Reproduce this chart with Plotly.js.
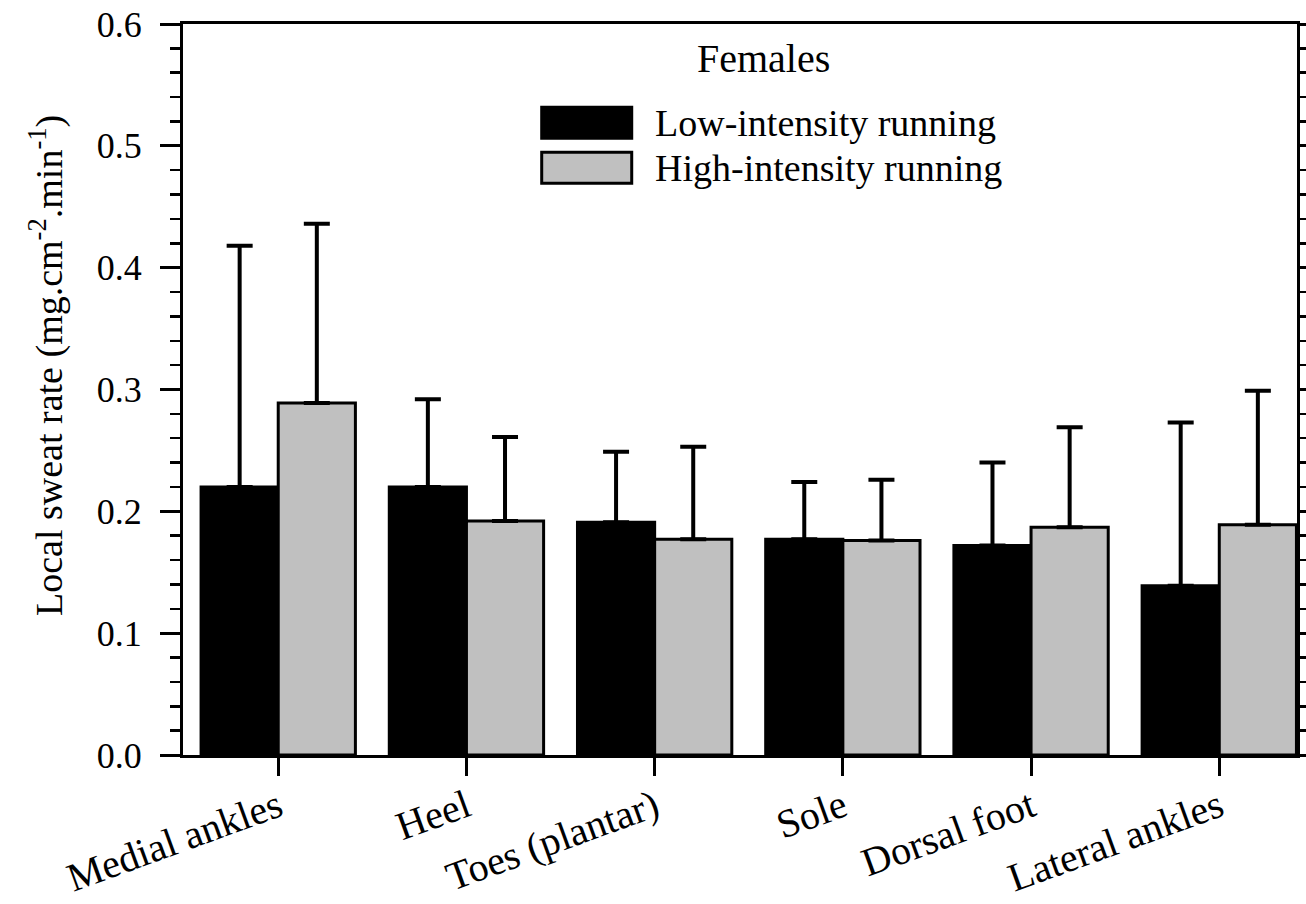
<!DOCTYPE html>
<html>
<head>
<meta charset="utf-8">
<script src="https://cdn.plot.ly/plotly-3.0.1.min.js"></script>
<style>html,body{margin:0;padding:0;background:#fff;}#chart{width:1306px;height:904px;}</style>
</head>
<body>
<div id="chart"></div>
<script>
const categories = ["Medial ankles", "Heel", "Toes (plantar)", "Sole", "Dorsal foot", "Lateral ankles"];
const lowMean = [0.220, 0.220, 0.191, 0.177, 0.172, 0.139];
const lowUpper = [0.418, 0.292, 0.249, 0.224, 0.240, 0.273];
const highMean = [0.289, 0.192, 0.177, 0.176, 0.187, 0.189];
const highUpper = [0.436, 0.261, 0.253, 0.226, 0.269, 0.299];
const yTickVals = [0, 0.1, 0.2, 0.3, 0.4, 0.5, 0.6];
const yTickText = ["0.0", "0.1", "0.2", "0.3", "0.4", "0.5", "0.6"];
const seriesNames = ["Low-intensity running", "High-intensity running"];
const chartTitle = "Females";
const yTitle = "Local sweat rate (mg.cm<sup>-2</sup>.min<sup>-1</sup>)";

const FONT = "Liberation Serif";
const errLow = lowUpper.map((u, i) => u - lowMean[i]);
const errHigh = highUpper.map((u, i) => u - highMean[i]);
const zeros = categories.map(() => 0);

const traces = [
  {
    type: "bar", name: seriesNames[0], x: categories, y: lowMean,
    marker: {color: "#000000", line: {color: "#000000", width: 3}},
    error_y: {type: "data", symmetric: false, array: errLow, arrayminus: zeros, color: "#000", thickness: 4, width: 13}
  },
  {
    type: "bar", name: seriesNames[1], x: categories, y: highMean,
    marker: {color: "#c0c0c0", line: {color: "#000000", width: 3}},
    error_y: {type: "data", symmetric: false, array: errHigh, arrayminus: zeros, color: "#000", thickness: 4, width: 13}
  }
];

const layout = {
  width: 1306, height: 904,
  margin: {l: 183, r: 9, t: 24, b: 149},
  paper_bgcolor: "#fff", plot_bgcolor: "#fff",
  showlegend: false,
  barmode: "group", bargap: 0.18, bargroupgap: 0,
  font: {family: FONT, color: "#000", size: 36},
  xaxis: {
    type: "category", range: [-0.506, 5.413],
    showline: true, linecolor: "#000", linewidth: 3, mirror: true,
    ticks: "outside", ticklen: 18, tickwidth: 3, tickcolor: "#000",
    tickangle: -20, tickfont: {family: FONT, size: 40, color: "#000"},
    ticklabelstandoff: -8,
    showgrid: false, zeroline: false
  },
  yaxis: {
    range: [0, 0.6], tickvals: yTickVals, ticktext: yTickText,
    showline: true, linecolor: "#000", linewidth: 3, mirror: "allticks",
    ticks: "outside", ticklen: 20, tickwidth: 3, tickcolor: "#000",
    minor: {dtick: 0.02, ticks: "outside", ticklen: 10, tickwidth: 2.5, tickcolor: "#000", showgrid: false},
    tickfont: {family: FONT, size: 36, color: "#000"},
    ticklabelstandoff: 11,
    showgrid: false, zeroline: false
  },
  shapes: [
    {type: "rect", xref: "paper", yref: "paper", x0: 0.322, x1: 0.4028, y0: 0.8436, y1: 0.886,
     fillcolor: "#000", line: {color: "#000", width: 3}},
    {type: "rect", xref: "paper", yref: "paper", x0: 0.322, x1: 0.4028, y0: 0.782, y1: 0.8245,
     fillcolor: "#c0c0c0", line: {color: "#000", width: 3}}
  ],
  annotations: [
    {xref: "paper", yref: "paper", x: 0.5215, y: 0.953, text: chartTitle, showarrow: false,
     xanchor: "center", yanchor: "middle", font: {family: FONT, size: 40, color: "#000"}},
    {xref: "paper", yref: "paper", x: 0.4216, y: 0.8646, text: seriesNames[0], showarrow: false,
     xanchor: "left", yanchor: "middle", font: {family: FONT, size: 38, color: "#000"}},
    {xref: "paper", yref: "paper", x: 0.4216, y: 0.803, text: seriesNames[1], showarrow: false,
     xanchor: "left", yanchor: "middle", font: {family: FONT, size: 38, color: "#000"}},
    {xref: "paper", yref: "paper", x: -0.1230, y: 0.5335, text: yTitle, showarrow: false, textangle: -90,
     xanchor: "center", yanchor: "middle", font: {family: FONT, size: 38, color: "#000"}}
  ]
};

Plotly.newPlot("chart", traces, layout, {displayModeBar: false, staticPlot: true});
</script>
</body>
</html>
